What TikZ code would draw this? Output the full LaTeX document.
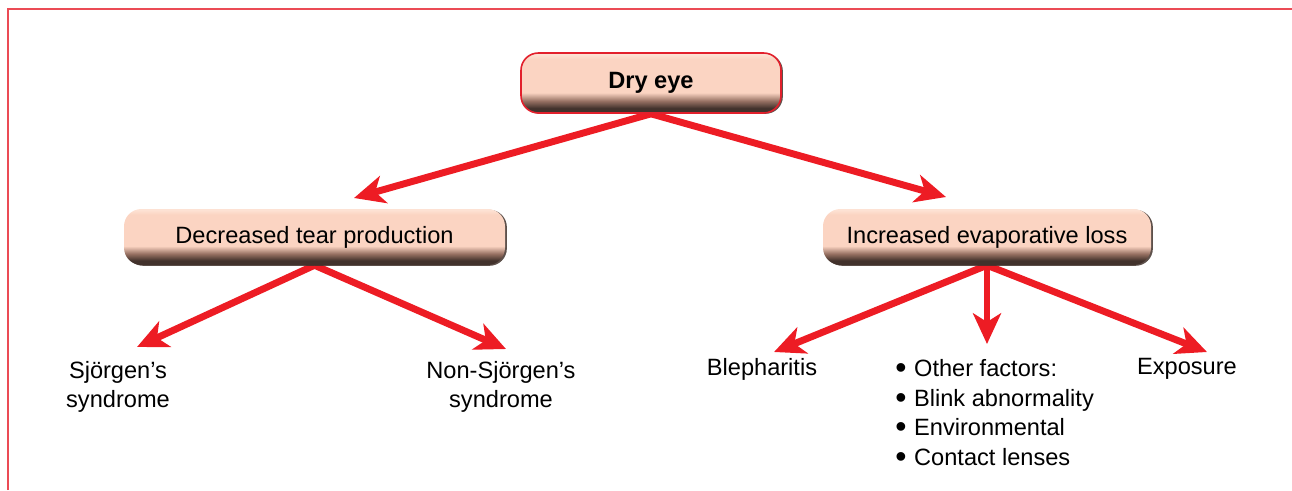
\documentclass[tikz,border=0pt]{standalone}
\usepackage{fontspec}
\setmainfont{Liberation Sans}
\usetikzlibrary{arrows.meta,shadows,backgrounds}
\definecolor{framecol}{RGB}{235,75,85}
\definecolor{arrred}{RGB}{237,28,36}
\definecolor{peach}{RGB}{251,212,194}
\definecolor{plight}{RGB}{253,226,212}
\definecolor{bdark}{RGB}{66,50,44}
\definecolor{bmid}{RGB}{150,112,98}
\definecolor{dryborder}{RGB}{226,32,44}
\pgfdeclareverticalshading{boxshade}{100bp}{color(0bp)=(bdark); color(25bp)=(bdark); color(29bp)=(bdark); color(35bp)=(bmid); color(42bp)=(peach); color(70bp)=(peach); color(74bp)=(plight); color(100bp)=(plight)}
\newcommand{\bul}{\makebox[0.8em][l]{\raisebox{-1.6pt}{\fontsize{24}{24}\selectfont\textbullet}}}
\begin{document}
\begin{tikzpicture}[x=0.75pt,y=-0.75pt,
  txt/.style={font=\fontsize{17.7}{22.3}\selectfont, text=black, inner sep=0pt},
  box/.style={txt, shading=boxshade, rounded corners=13pt, minimum height=42pt,
    drop shadow={shadow xshift=1.4pt, shadow yshift=-0.6pt, fill=bdark, opacity=0.85}},
  arr/.style={draw=arrred, line width=5.2pt, -{Stealth[length=23pt,width=21pt,inset=6.5pt]}}]
\useasboundingbox (0,0) rectangle (1292,490);
\draw[framecol, line width=1.6pt] (8,490) -- (8,9) -- (1292,9);

\node[box, minimum width=195pt, minimum height=45pt, draw=dryborder, line width=1.2pt,
  font=\fontsize{17.7}{22.3}\selectfont\bfseries] (dry) at (651,83) {Dry eye};
\node[box, minimum width=285.75pt] (dec) at (314.5,237) {Decreased tear production};
\node[box, minimum width=246pt] (inc) at (987,237) {Increased evaporative loss};

\node[txt, align=center] (sjo) at (118,387) {Sjörgen’s\\syndrome};
\node[txt, align=center] (nsjo) at (501,387) {Non-Sjörgen’s\\syndrome};
\node[txt] (bleph) at (762,369) {Blepharitis};
\node[txt] (expo) at (1187,369) {Exposure};
\node[txt, anchor=north west, align=left] (other) at (895,359)
  {\bul Other factors:\\
   \bul Blink abnormality\\
   \bul Environmental\\
   \bul Contact lenses};

\coordinate (t1) at (354,198);
\coordinate (t2) at (946,197);
\coordinate (t3) at (137,347);
\coordinate (t4) at (506,349);
\coordinate (t5) at (774,352);
\coordinate (t6) at (987,344);
\coordinate (t7) at (1207,352);

\begin{scope}[on background layer]
\draw[arr] (dry.south) -- (t1);
\draw[arr] (dry.south) -- (t2);
\draw[arr] (dec.south) -- (t3);
\draw[arr] (dec.south) -- (t4);
\draw[arr] (inc.south) -- (t5);
\draw[arr] (inc.south) -- (t6);
\draw[arr] (inc.south) -- (t7);
\end{scope}
\end{tikzpicture}
\end{document}
